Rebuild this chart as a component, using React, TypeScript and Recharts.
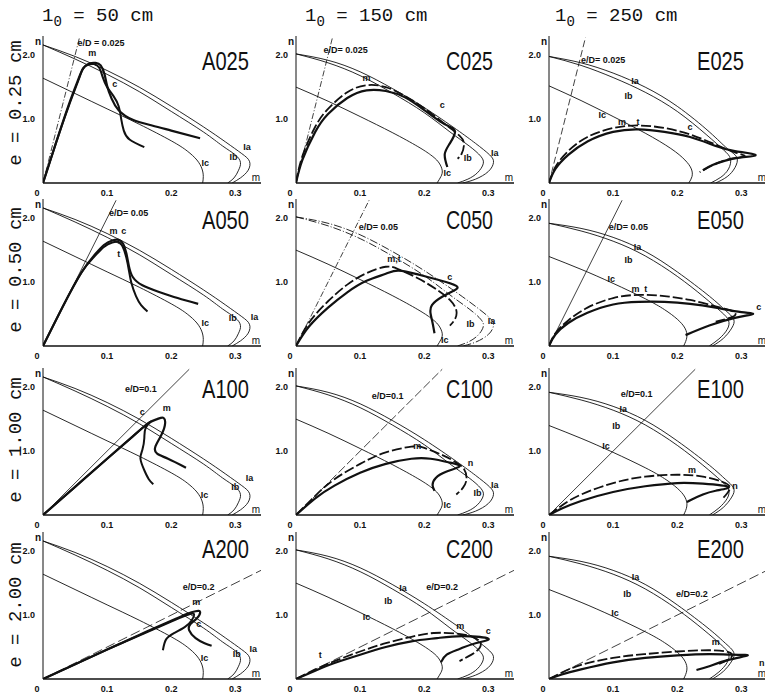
import React from 'react';
import { ComposedChart, Line, XAxis, YAxis, ReferenceDot } from 'recharts';

type Pt = [number, number];
type Note = [number, number, string];

// ---------- axis / text data ----------
const xTicks = [0, 0.1, 0.2, 0.3];
const yTicks = [1.0, 2.0];
const columnLengths = ['50', '150', '250'];
const rowLabels = ['e = 0.25 cm', 'e = 0.50 cm', 'e = 1.00 cm', 'e = 2.00 cm'];
const panelNames = [
  ['A025', 'C025', 'E025'],
  ['A050', 'C050', 'E050'],
  ['A100', 'C100', 'E100'],
  ['A200', 'C200', 'E200'],
];
const eDTexts = [
  ['e/D = 0.025', 'e/D= 0.025', 'e/D= 0.025'],
  ['e/D= 0.05', 'e/D= 0.05', 'e/D= 0.05'],
  ['e/D=0.1', 'e/D=0.1', 'e/D=0.1'],
  ['e/D=0.2', 'e/D=0.2', 'e/D=0.2'],
];

// ---------- interaction curves (m, n) ----------
const iaA: Pt[] = [[0, 2.16], [0.05, 1.98], [0.1, 1.76], [0.15, 1.5], [0.2, 1.2], [0.25, 0.88], [0.285, 0.64], [0.31, 0.46], [0.322, 0.34], [0.32, 0.2], [0.308, 0.08], [0.295, 0]];
const ibA: Pt[] = [[0, 2.16], [0.05, 1.94], [0.1, 1.7], [0.15, 1.43], [0.2, 1.12], [0.25, 0.8], [0.28, 0.58], [0.3, 0.44], [0.308, 0.32], [0.305, 0.2], [0.298, 0.08], [0.288, 0]];
const icA: Pt[] = [[0, 1.64], [0.05, 1.4], [0.1, 1.16], [0.15, 0.92], [0.2, 0.66], [0.225, 0.5], [0.24, 0.36], [0.248, 0.22], [0.25, 0.1], [0.249, 0]];

const iaC: Pt[] = [[0, 2.02], [0.05, 1.92], [0.1, 1.74], [0.15, 1.48], [0.2, 1.18], [0.25, 0.84], [0.28, 0.62], [0.302, 0.44], [0.308, 0.32], [0.3, 0.18], [0.28, 0.06], [0.26, 0]];
const ibC: Pt[] = [[0, 2.02], [0.05, 1.88], [0.1, 1.68], [0.15, 1.41], [0.2, 1.1], [0.24, 0.8], [0.27, 0.58], [0.288, 0.42], [0.292, 0.3], [0.283, 0.16], [0.268, 0.06], [0.252, 0]];
const icC: Pt[] = [[0, 1.5], [0.05, 1.28], [0.1, 1.04], [0.15, 0.79], [0.19, 0.57], [0.21, 0.44], [0.222, 0.33], [0.228, 0.2], [0.226, 0.1], [0.22, 0]];

const iaE1: Pt[] = [[0, 1.98], [0.05, 1.88], [0.1, 1.72], [0.15, 1.5], [0.2, 1.2], [0.25, 0.8], [0.278, 0.54], [0.293, 0.4], [0.29, 0.24], [0.278, 0.1], [0.26, 0]];
const ibE1: Pt[] = [[0, 1.98], [0.05, 1.84], [0.1, 1.65], [0.15, 1.42], [0.2, 1.12], [0.245, 0.76], [0.272, 0.52], [0.283, 0.38], [0.28, 0.22], [0.268, 0.09], [0.252, 0]];
const icE1: Pt[] = [[0, 1.52], [0.05, 1.29], [0.1, 1.04], [0.15, 0.78], [0.19, 0.54], [0.212, 0.36], [0.222, 0.22], [0.223, 0.1], [0.218, 0]];

const iaE2: Pt[] = [[0, 1.92], [0.05, 1.84], [0.1, 1.7], [0.15, 1.48], [0.2, 1.16], [0.25, 0.78], [0.275, 0.56], [0.288, 0.42], [0.285, 0.28], [0.272, 0.12], [0.255, 0]];
const ibE2: Pt[] = [[0, 1.92], [0.05, 1.8], [0.1, 1.64], [0.15, 1.41], [0.2, 1.09], [0.24, 0.78], [0.268, 0.54], [0.28, 0.4], [0.278, 0.26], [0.265, 0.11], [0.25, 0]];
const icE2: Pt[] = [[0, 1.4], [0.05, 1.2], [0.1, 0.98], [0.15, 0.74], [0.18, 0.57], [0.2, 0.42], [0.212, 0.28], [0.215, 0.14], [0.21, 0]];

// ---------- e/D load lines ----------
const ed025: Pt[] = [[0, 0], [0.057, 2.28]];
const ed050: Pt[] = [[0, 0], [0.114, 2.28]];
const ed100: Pt[] = [[0, 0], [0.228, 2.28]];
const ed200: Pt[] = [[0, 0], [0.34, 1.7]];

// ---------- experimental curves ----------
const expA025a: Pt[] = [[0, 0], [0.02, 0.62], [0.04, 1.22], [0.055, 1.62], [0.063, 1.8], [0.072, 1.87], [0.082, 1.88], [0.09, 1.84], [0.096, 1.7], [0.1, 1.52], [0.107, 1.32], [0.118, 1.14], [0.14, 0.99], [0.17, 0.9], [0.2, 0.82], [0.245, 0.7]];
const expA025b: Pt[] = [[0, 0], [0.02, 0.62], [0.04, 1.2], [0.055, 1.6], [0.062, 1.78], [0.07, 1.85], [0.08, 1.86], [0.088, 1.8], [0.093, 1.66], [0.1, 1.5], [0.11, 1.36], [0.118, 1.2], [0.122, 1.0], [0.126, 0.82], [0.135, 0.68], [0.158, 0.56]];
const expA050a: Pt[] = [[0, 0], [0.03, 0.6], [0.06, 1.15], [0.08, 1.42], [0.095, 1.58], [0.108, 1.65], [0.118, 1.66], [0.125, 1.6], [0.13, 1.45], [0.134, 1.25], [0.14, 1.08], [0.155, 0.95], [0.18, 0.85], [0.21, 0.75], [0.242, 0.66]];
const expA050b: Pt[] = [[0, 0], [0.03, 0.6], [0.06, 1.15], [0.08, 1.4], [0.095, 1.55], [0.108, 1.62], [0.117, 1.63], [0.124, 1.56], [0.13, 1.38], [0.134, 1.18], [0.138, 0.98], [0.145, 0.78], [0.153, 0.64], [0.163, 0.54]];
const expA100a: Pt[] = [[0, 0], [0.05, 0.44], [0.1, 0.88], [0.14, 1.23], [0.165, 1.44], [0.178, 1.5], [0.188, 1.52], [0.19, 1.4], [0.183, 1.22], [0.175, 1.06], [0.178, 0.96], [0.195, 0.88], [0.223, 0.74]];
const expA100b: Pt[] = [[0, 0], [0.05, 0.44], [0.1, 0.88], [0.14, 1.23], [0.162, 1.42], [0.168, 1.46], [0.16, 1.36], [0.158, 1.2], [0.155, 1.02], [0.152, 0.88], [0.158, 0.7], [0.165, 0.56], [0.172, 0.48]];
const expA200a: Pt[] = [[0, 0], [0.05, 0.23], [0.1, 0.46], [0.15, 0.69], [0.2, 0.91], [0.225, 1.02], [0.238, 1.06], [0.245, 1.05], [0.24, 0.95], [0.23, 0.86], [0.228, 0.76], [0.238, 0.64], [0.252, 0.56], [0.263, 0.52]];
const expA200b: Pt[] = [[0, 0], [0.05, 0.23], [0.1, 0.46], [0.15, 0.68], [0.2, 0.9], [0.222, 0.99], [0.235, 1.02], [0.232, 0.92], [0.222, 0.82], [0.205, 0.72], [0.192, 0.62], [0.187, 0.45]];

const expC025s: Pt[] = [[0, 0], [0.01, 0.36], [0.03, 0.8], [0.05, 1.08], [0.08, 1.33], [0.11, 1.45], [0.14, 1.44], [0.17, 1.34], [0.2, 1.14], [0.225, 0.96], [0.24, 0.88], [0.248, 0.8], [0.24, 0.62], [0.232, 0.45], [0.236, 0.25]];
const expC025d: Pt[] = [[0, 0], [0.01, 0.42], [0.03, 0.88], [0.05, 1.16], [0.08, 1.42], [0.11, 1.53], [0.14, 1.5], [0.17, 1.36], [0.2, 1.17], [0.23, 0.94], [0.255, 0.74], [0.262, 0.6], [0.258, 0.45], [0.252, 0.38]];
const expC050s: Pt[] = [[0, 0], [0.02, 0.3], [0.05, 0.6], [0.08, 0.84], [0.11, 1.02], [0.14, 1.13], [0.16, 1.18], [0.19, 1.12], [0.22, 1.04], [0.25, 0.94], [0.245, 0.86], [0.228, 0.77], [0.212, 0.64], [0.21, 0.5], [0.213, 0.36], [0.216, 0.2]];
const expC050d: Pt[] = [[0, 0], [0.02, 0.36], [0.05, 0.7], [0.08, 0.96], [0.11, 1.14], [0.14, 1.24], [0.16, 1.2], [0.19, 1.06], [0.22, 0.88], [0.24, 0.72], [0.25, 0.56], [0.248, 0.42], [0.24, 0.32]];
const expC100s: Pt[] = [[0, 0], [0.03, 0.26], [0.06, 0.46], [0.1, 0.66], [0.14, 0.8], [0.18, 0.88], [0.21, 0.88], [0.24, 0.82], [0.255, 0.76], [0.235, 0.68], [0.218, 0.58], [0.213, 0.47], [0.216, 0.38]];
const expC100d: Pt[] = [[0, 0], [0.03, 0.3], [0.06, 0.56], [0.1, 0.8], [0.14, 0.98], [0.18, 1.07], [0.2, 1.05], [0.23, 0.93], [0.25, 0.82], [0.262, 0.72], [0.266, 0.56], [0.26, 0.42], [0.25, 0.32]];
const expC200s: Pt[] = [[0, 0], [0.03, 0.13], [0.06, 0.25], [0.1, 0.38], [0.14, 0.5], [0.18, 0.59], [0.22, 0.64], [0.26, 0.67], [0.3, 0.63], [0.28, 0.56], [0.255, 0.47], [0.235, 0.38], [0.226, 0.26]];
const expC200d: Pt[] = [[0, 0], [0.03, 0.15], [0.06, 0.28], [0.1, 0.43], [0.14, 0.56], [0.18, 0.66], [0.215, 0.72], [0.25, 0.71], [0.275, 0.66], [0.288, 0.56], [0.282, 0.44], [0.268, 0.35], [0.255, 0.28]];

const expE025s: Pt[] = [[0, 0], [0.01, 0.22], [0.03, 0.44], [0.06, 0.65], [0.1, 0.8], [0.14, 0.84], [0.18, 0.8], [0.22, 0.72], [0.26, 0.58], [0.29, 0.5], [0.322, 0.44], [0.3, 0.4], [0.275, 0.35], [0.255, 0.28], [0.24, 0.2]];
const expE025d: Pt[] = [[0, 0], [0.01, 0.25], [0.03, 0.5], [0.06, 0.72], [0.1, 0.86], [0.14, 0.9], [0.18, 0.86], [0.22, 0.76], [0.26, 0.6], [0.29, 0.48], [0.305, 0.42], [0.285, 0.38], [0.26, 0.3], [0.235, 0.17]];
const expE050s: Pt[] = [[0, 0], [0.01, 0.18], [0.03, 0.36], [0.06, 0.52], [0.1, 0.65], [0.14, 0.69], [0.18, 0.69], [0.22, 0.66], [0.26, 0.6], [0.3, 0.53], [0.318, 0.5], [0.29, 0.44], [0.25, 0.32], [0.213, 0.17]];
const expE050d: Pt[] = [[0, 0], [0.01, 0.2], [0.03, 0.4], [0.06, 0.6], [0.1, 0.75], [0.14, 0.8], [0.18, 0.78], [0.22, 0.72], [0.26, 0.62], [0.285, 0.55], [0.29, 0.48], [0.275, 0.42], [0.26, 0.38]];
const expE100s: Pt[] = [[0, 0], [0.02, 0.1], [0.05, 0.22], [0.1, 0.36], [0.15, 0.45], [0.2, 0.5], [0.24, 0.49], [0.28, 0.44], [0.26, 0.38], [0.24, 0.32], [0.222, 0.24], [0.215, 0.2]];
const expE100d: Pt[] = [[0, 0], [0.02, 0.15], [0.05, 0.32], [0.1, 0.5], [0.15, 0.6], [0.2, 0.63], [0.24, 0.6], [0.27, 0.52], [0.282, 0.44], [0.278, 0.34], [0.27, 0.25]];
const expE200s: Pt[] = [[0, 0], [0.02, 0.07], [0.05, 0.15], [0.1, 0.26], [0.15, 0.33], [0.2, 0.37], [0.25, 0.39], [0.285, 0.38], [0.31, 0.37], [0.28, 0.3], [0.25, 0.2], [0.23, 0.14]];
const expE200d: Pt[] = [[0, 0], [0.02, 0.1], [0.05, 0.22], [0.1, 0.33], [0.15, 0.39], [0.2, 0.43], [0.25, 0.45], [0.28, 0.42], [0.285, 0.35], [0.275, 0.28], [0.262, 0.22]];

// ---------- label positions (m, n, text) ----------
const curveLabelsA025: Note[] = [[0.318, 0.56, 'Ia'], [0.297, 0.41, 'Ib'], [0.253, 0.31, 'Ic']];
const curveLabelsA050: Note[] = [[0.33, 0.45, 'Ia'], [0.296, 0.44, 'Ib'], [0.253, 0.36, 'Ic']];
const curveLabelsA100: Note[] = [[0.322, 0.58, 'Ia'], [0.3, 0.44, 'Ib'], [0.252, 0.31, 'Ic']];
const curveLabelsA200: Note[] = [[0.328, 0.47, 'Ia'], [0.302, 0.39, 'Ib'], [0.252, 0.33, 'Ic']];
const curveLabelsC025: Note[] = [[0.31, 0.47, 'Ia'], [0.268, 0.4, 'Ib'], [0.236, 0.16, 'Ic']];
const curveLabelsC050: Note[] = [[0.305, 0.4, 'Ia'], [0.272, 0.34, 'Ib'], [0.232, 0.1, 'Ic']];
const curveLabelsC100: Note[] = [[0.31, 0.47, 'Ia'], [0.283, 0.34, 'Ib'], [0.236, 0.16, 'Ic']];
const curveLabelsC200: Note[] = [[0.167, 1.42, 'Ia'], [0.144, 1.22, 'Ib'], [0.11, 0.98, 'Ic']];
const curveLabelsE025: Note[] = [[0.134, 1.6, 'Ia'], [0.124, 1.36, 'Ib'], [0.083, 1.06, 'Ic']];
const curveLabelsE050: Note[] = [[0.138, 1.55, 'Ia'], [0.124, 1.35, 'Ib'], [0.097, 1.05, 'Ic']];
const curveLabelsE100: Note[] = [[0.116, 1.66, 'Ia'], [0.105, 1.4, 'Ib'], [0.089, 1.08, 'Ic']];
const curveLabelsE200: Note[] = [[0.135, 1.6, 'Ia'], [0.122, 1.34, 'Ib'], [0.103, 1.04, 'Ic']];

const marksA025: Note[] = [[0.077, 2.04, 'm'], [0.112, 1.55, 'c']];
const marksA050: Note[] = [[0.11, 1.8, 'm'], [0.126, 1.8, 'c'], [0.118, 1.45, 't']];
const marksA100: Note[] = [[0.155, 1.62, 'c'], [0.193, 1.67, 'm']];
const marksA200: Note[] = [[0.239, 1.2, 'm'], [0.243, 0.86, 'c']];
const marksC025: Note[] = [[0.11, 1.64, 'm'], [0.228, 1.23, 'c']];
const marksC050: Note[] = [[0.153, 1.36, 'm,t'], [0.24, 1.08, 'c']];
const marksC100: Note[] = [[0.189, 1.08, 'm'], [0.272, 0.81, 'n']];
const marksC200: Note[] = [[0.256, 0.84, 'm'], [0.3, 0.76, 'c'], [0.038, 0.38, 't']];
const marksE025: Note[] = [[0.114, 0.96, 'm'], [0.139, 0.96, 't'], [0.22, 0.88, 'c']];
const marksE050: Note[] = [[0.135, 0.89, 'm'], [0.151, 0.89, 't'], [0.327, 0.62, 'c']];
const marksE100: Note[] = [[0.223, 0.7, 'm'], [0.29, 0.45, 'n']];
const marksE200: Note[] = [[0.26, 0.58, 'm'], [0.332, 0.26, 'n']];

const eDLabelPos: Pt[][] = [
  [[0.054, 2.2], [0.043, 2.08], [0.05, 1.92]],
  [[0.103, 2.08], [0.098, 1.86], [0.093, 1.86]],
  [[0.128, 1.98], [0.118, 1.87], [0.112, 1.9]],
  [[0.218, 1.45], [0.203, 1.45], [0.198, 1.34]],
];

// ---------- layout ----------
const colOrigins = [43, 296, 549];
const rowBases = [183, 346, 515, 679];
const titleX = [202, 446, 697];
const titleBase = [70, 229, 398, 558];
const PW = 218, PH = 147, YW = 34, TOP = 12, XH = 18, RM = 14;
const FONT = "'Liberation Sans', Arial, Helvetica, sans-serif";
const MONO = "'Liberation Mono', 'DejaVu Sans Mono', 'Courier New', monospace";
const INK = '#111';

interface PanelCfg {
  row: number; col: number;
  ia: Pt[]; ib: Pt[]; ic: Pt[];
  ed: Pt[]; edDash: string;
  expA: Pt[]; expB: Pt[]; bDashed: boolean;
  curveLabels: Note[]; marks: Note[];
  iDash?: string;
}

const panels: PanelCfg[] = [
  { row: 0, col: 0, ia: iaA, ib: ibA, ic: icA, ed: ed025, edDash: '6 2 1 2', expA: expA025a, expB: expA025b, bDashed: false, curveLabels: curveLabelsA025, marks: marksA025 },
  { row: 0, col: 1, ia: iaC, ib: ibC, ic: icC, ed: ed025, edDash: '6 2 1 2', expA: expC025s, expB: expC025d, bDashed: true, curveLabels: curveLabelsC025, marks: marksC025 },
  { row: 0, col: 2, ia: iaE1, ib: ibE1, ic: icE1, ed: ed025, edDash: '7 3', expA: expE025s, expB: expE025d, bDashed: true, curveLabels: curveLabelsE025, marks: marksE025 },
  { row: 1, col: 0, ia: iaA, ib: ibA, ic: icA, ed: ed050, edDash: '0', expA: expA050a, expB: expA050b, bDashed: false, curveLabels: curveLabelsA050, marks: marksA050 },
  { row: 1, col: 1, ia: iaC, ib: ibC, ic: icC, ed: ed050, edDash: '6 2 1 2', expA: expC050s, expB: expC050d, bDashed: true, curveLabels: curveLabelsC050, marks: marksC050, iDash: '8 2 1 2' },
  { row: 1, col: 2, ia: iaE2, ib: ibE2, ic: icE2, ed: ed050, edDash: '0', expA: expE050s, expB: expE050d, bDashed: true, curveLabels: curveLabelsE050, marks: marksE050 },
  { row: 2, col: 0, ia: iaA, ib: ibA, ic: icA, ed: ed100, edDash: '0', expA: expA100a, expB: expA100b, bDashed: false, curveLabels: curveLabelsA100, marks: marksA100 },
  { row: 2, col: 1, ia: iaC, ib: ibC, ic: icC, ed: ed100, edDash: '9 3', expA: expC100s, expB: expC100d, bDashed: true, curveLabels: curveLabelsC100, marks: marksC100 },
  { row: 2, col: 2, ia: iaE2, ib: ibE2, ic: icE2, ed: ed100, edDash: '0', expA: expE100s, expB: expE100d, bDashed: true, curveLabels: curveLabelsE100, marks: marksE100 },
  { row: 3, col: 0, ia: iaA, ib: ibA, ic: icA, ed: ed200, edDash: '10 4', expA: expA200a, expB: expA200b, bDashed: false, curveLabels: curveLabelsA200, marks: marksA200 },
  { row: 3, col: 1, ia: iaC, ib: ibC, ic: icC, ed: ed200, edDash: '10 4', expA: expC200s, expB: expC200d, bDashed: true, curveLabels: curveLabelsC200, marks: marksC200 },
  { row: 3, col: 2, ia: iaE2, ib: ibE2, ic: icE2, ed: ed200, edDash: '10 4', expA: expE200s, expB: expE200d, bDashed: true, curveLabels: curveLabelsE200, marks: marksE200 },
];

const pts = (a: Pt[]) => a.map(([m, n]) => ({ m, n }));

const XTick = (p: any) => {
  const v = p.payload.value as number;
  return (
    <text x={p.x + (v === 0 ? -6 : 0)} y={p.y + 9} textAnchor="middle" fontSize={9} fontWeight={700} fontFamily={FONT} fill={INK}>
      {v === 0 ? '0' : v.toFixed(1)}
    </text>
  );
};

function Panel({ cfg }: { cfg: PanelCfg }) {
  const left = colOrigins[cfg.col] - YW;
  const top = rowBases[cfg.row] - PH - TOP;
  const edPos = eDLabelPos[cfg.row][cfg.col];
  const thin = { dot: false, activeDot: false, isAnimationActive: false, stroke: INK, legendType: 'none' as const };
  return (
    <div style={{ position: 'absolute', left, top }}>
      <ComposedChart width={YW + PW + RM} height={TOP + PH + XH} margin={{ top: TOP, right: RM, left: 0, bottom: 0 }}>
        <XAxis
          type="number" dataKey="m" domain={[0, 0.34]} ticks={xTicks} allowDataOverflow interval={0}
          height={XH} tickLine={false} tickSize={3} tickMargin={1}
          axisLine={{ stroke: INK, strokeWidth: 1.3 }} tick={(p: any) => <XTick {...p} />}
        />
        <YAxis
          type="number" dataKey="n" domain={[0, 2.3]} ticks={yTicks} allowDataOverflow interval={0}
          width={YW} tickLine={false} axisLine={{ stroke: INK, strokeWidth: 1 }}
          tick={{ fontSize: 9, fontWeight: 700, fill: INK, fontFamily: FONT }}
          tickFormatter={(v: number) => v.toFixed(1)}
        />
        <Line {...thin} data={pts(cfg.ed)} dataKey="n" type="linear" strokeWidth={0.8} strokeDasharray={cfg.edDash} />
        <Line {...thin} data={pts(cfg.ia)} dataKey="n" type="natural" strokeWidth={0.9} strokeDasharray={cfg.iDash} />
        <Line {...thin} data={pts(cfg.ib)} dataKey="n" type="natural" strokeWidth={0.9} strokeDasharray={cfg.iDash} />
        <Line {...thin} data={pts(cfg.ic)} dataKey="n" type="natural" strokeWidth={0.9} />
        <Line {...thin} data={pts(cfg.expB)} dataKey="n" type="natural" strokeWidth={cfg.bDashed ? 1.8 : 2} strokeDasharray={cfg.bDashed ? '10 3' : undefined} />
        <Line {...thin} data={pts(cfg.expA)} dataKey="n" type="natural" strokeWidth={2.2} />
        <ReferenceDot x={edPos[0]} y={edPos[1]} r={0} fill="none" stroke="none" ifOverflow="visible"
          label={{ value: eDTexts[cfg.row][cfg.col], position: 'right', offset: 0, fontSize: 9, fontWeight: 700, fill: INK, fontFamily: FONT }} />
        {cfg.curveLabels.map(([m, n, t], i) => (
          <ReferenceDot key={'c' + i} x={m} y={n} r={0} fill="none" stroke="none" ifOverflow="visible"
            label={{ value: t, position: 'center', fontSize: 9, fontWeight: 700, fill: INK, fontFamily: FONT }} />
        ))}
        {cfg.marks.map(([m, n, t], i) => (
          <ReferenceDot key={'k' + i} x={m} y={n} r={0} fill="none" stroke="none" ifOverflow="visible"
            label={{ value: t, position: 'center', fontSize: 9, fontWeight: 700, fill: INK, fontFamily: FONT }} />
        ))}
        <ReferenceDot x={0} y={2.22} r={0} fill="none" stroke="none" ifOverflow="visible"
          label={{ value: 'n', position: 'left', offset: 2, fontSize: 10, fontWeight: 700, fill: INK, fontFamily: FONT }} />
        <ReferenceDot x={0.332} y={0.08} r={0} fill="none" stroke="none" ifOverflow="visible"
          label={{ value: 'm', position: 'center', fontSize: 10, fill: INK, fontFamily: FONT }} />
      </ComposedChart>
    </div>
  );
}

export default function App() {
  const headX = [42, 305, 555];
  const rowCenters = [103, 270, 440, 605];
  return (
    <div style={{ position: 'absolute', left: 0, top: 0, width: 765, height: 696, background: '#fff', overflow: 'hidden' }}>
      {panels.map((p, i) => <Panel key={i} cfg={p} />)}
      <svg width={765} height={696} style={{ position: 'absolute', left: 0, top: 0, pointerEvents: 'none' }}>
        {columnLengths.map((l, i) => (
          <text key={'h' + i} x={headX[i]} y={21} fontFamily={MONO} fontSize={19} fill={INK}>
            1<tspan dy={5} fontSize={14}>0</tspan><tspan dy={-5}>{` = ${l} cm`}</tspan>
          </text>
        ))}
        {rowLabels.map((t, i) => (
          <text key={'r' + i} x={16} y={rowCenters[i]} transform={`rotate(-90 16 ${rowCenters[i]})`}
            textAnchor="middle" dominantBaseline="central" fontFamily={MONO} fontSize={19} fill={INK}>{t}</text>
        ))}
        {panelNames.map((row, r) => row.map((name, c) => (
          <text key={name} x={titleX[c]} y={titleBase[r]} fontFamily={FONT} fontSize={25} fill={INK}
            textLength={47} lengthAdjust="spacingAndGlyphs">{name}</text>
        )))}
      </svg>
    </div>
  );
}
